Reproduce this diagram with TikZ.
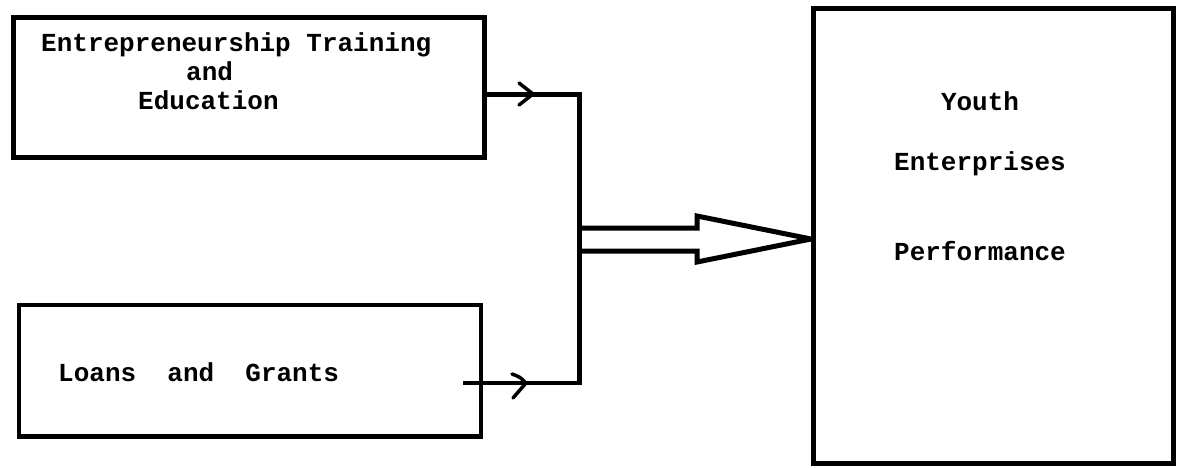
\documentclass[tikz,border=0pt]{standalone}
\usepackage{fontspec}
\setmonofont{Liberation Mono}
\usetikzlibrary{arrows.meta}
\begin{document}
\begin{tikzpicture}[x=1pt,y=-1pt,
  boxnode/.style={draw=black,line width=5pt,rectangle,inner sep=0pt,outer sep=0pt},
  lbl/.style={inner sep=0pt,font=\ttfamily\bfseries\fontsize{26}{29}\selectfont},
  conn/.style={draw=black,line width=5pt},
  chev/.style={draw=black,line width=3.5pt,line cap=round,line join=round},
]
\useasboundingbox (0,0) rectangle (1177,467);
% boxes
\node[boxnode,minimum width=470.5pt,minimum height=140pt] (b1) at (248.75,87) {};
\node[boxnode,line width=4.5pt,minimum width=462pt,minimum height=131.5pt] (b2) at (250,370.75) {};
\node[boxnode,minimum width=360pt,minimum height=455pt] (b3) at (993,235.5) {};
% texts
\node[lbl,anchor=base west] (t1a) at (41,51) {Entrepreneurship Training};
\node[lbl,anchor=base west] (t1b) at (186,80) {and};
\node[lbl,anchor=base west] (t1c) at (138,109) {Education};
\node[lbl,anchor=base west] (t2) at (58,381) {Loans\ \ and\ \ Grants};
\node[lbl,anchor=base] (t3a) at (980,110) {Youth};
\node[lbl,anchor=base] (t3b) at (980,170) {Enterprises};
\node[lbl,anchor=base] (t3c) at (980,260) {Performance};
% connector coordinates
\coordinate (e1) at (b1.east |- 0,94);
\coordinate (k1) at (579.5,94);
\coordinate (k2) at (579.5,383);
\coordinate (e2) at (463,383);
% connectors
\draw[conn,line join=miter] (e1) -- (k1) -- (k2);
\draw[draw=black,line width=4pt] (e2) -- ([xshift=2.5pt]k2);
% open arrowheads on the connectors
\coordinate (a1) at ([xshift=49pt]e1);
\draw[chev] ([xshift=-14pt,yshift=-11pt]a1) -- (a1) -- ([xshift=-14pt,yshift=11pt]a1);
\coordinate (a2) at ([xshift=63pt]e2);
\draw[chev]
  ([xshift=-13pt,yshift=-15pt]a2) .. controls ([xshift=-6pt,yshift=-8pt]a2) .. (a2)
  .. controls ([xshift=-6pt,yshift=6pt]a2) .. ([xshift=-14pt,yshift=9pt]a2);
% big hollow arrow
\coordinate (tip) at ([xshift=-2pt]b3.west |- 0,239);
\draw[draw=black,line width=5pt,line join=miter,miter limit=3]
  (k1 |- 0,228) -- (697,228) -- (697,216) -- (tip) -- (697,262) -- (697,251) -- (k1 |- 0,251);
\end{tikzpicture}
\end{document}
